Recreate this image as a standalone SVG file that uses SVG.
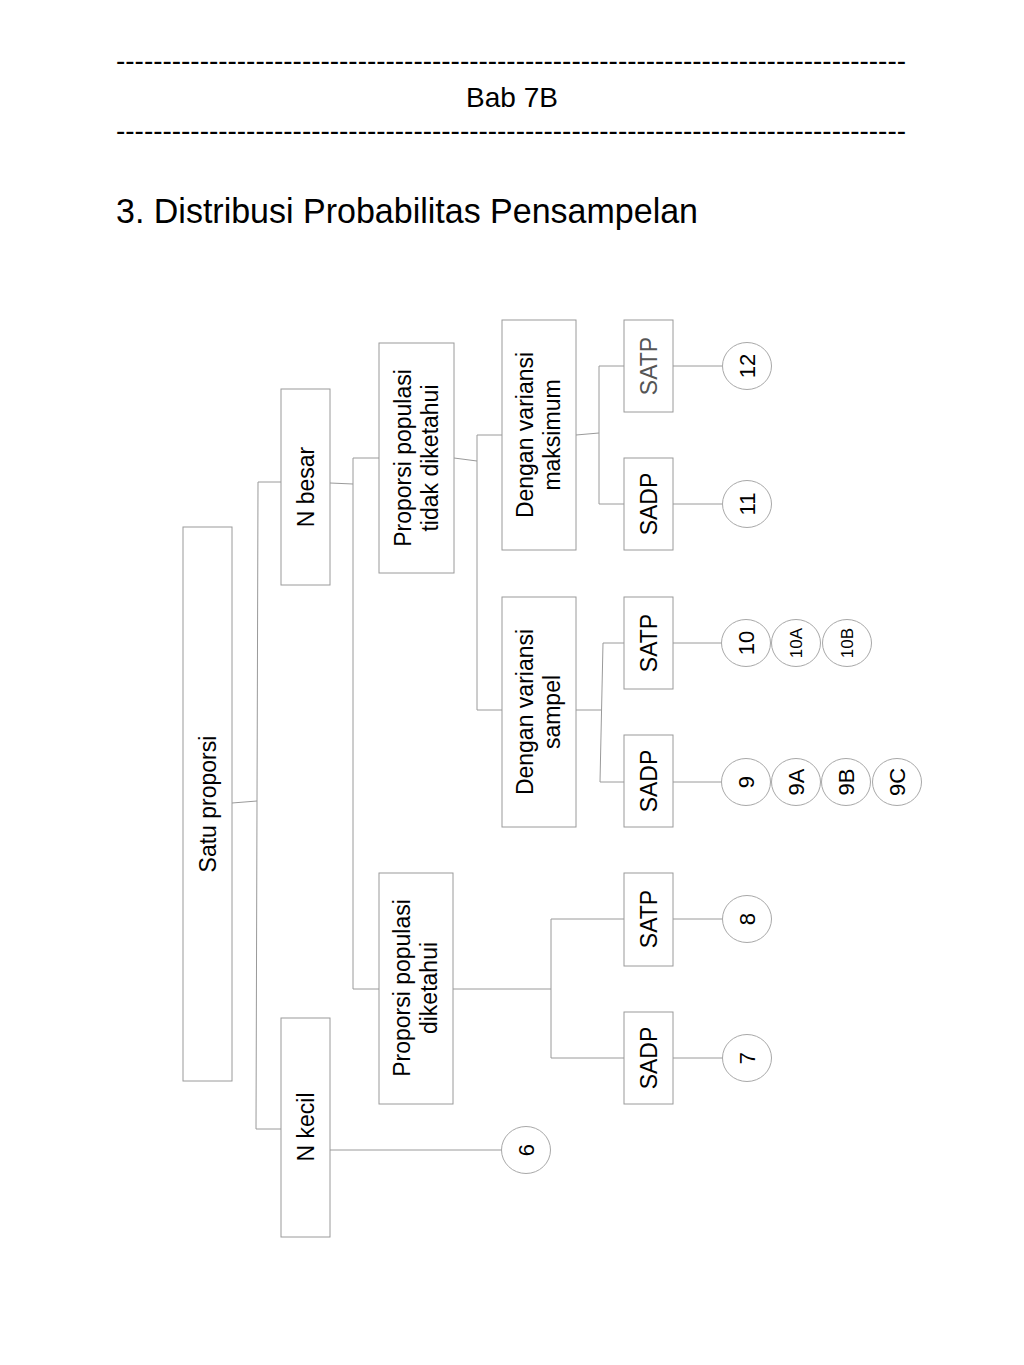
<svg xmlns="http://www.w3.org/2000/svg" width="1024" height="1365" viewBox="0 0 1024 1365">
<style>
text{font-family:"Liberation Sans",Arial,sans-serif;fill:#000}
.box{fill:#fff;stroke:#9a9a9a;stroke-width:1}
.c{fill:#fff;stroke:#a8a8a8;stroke-width:1}
.lbl{font-size:23px;text-anchor:middle}
.num{font-size:22px;text-anchor:middle}
.sm{font-size:17px;text-anchor:middle}
#connectors line,#connectors polyline{stroke:#9a9a9a;stroke-width:1;fill:none}
</style>
<rect width="1024" height="1365" fill="#fff"/>
<g id="header">
<text x="116" y="70" font-size="28" textLength="790" lengthAdjust="spacingAndGlyphs">-------------------------------------------------------------------------------------</text>
<text x="512" y="107" font-size="28" text-anchor="middle">Bab 7B</text>
<text x="116" y="140" font-size="28" textLength="790" lengthAdjust="spacingAndGlyphs">-------------------------------------------------------------------------------------</text>
<text x="116" y="223" font-size="35" textLength="582" lengthAdjust="spacingAndGlyphs">3. Distribusi Probabilitas Pensampelan</text>
</g>
<g id="connectors">
<line x1="232" y1="803" x2="257" y2="801"/>
<line x1="258" y1="482" x2="256" y2="1129"/>
<line x1="258" y1="482" x2="281" y2="482"/>
<line x1="256" y1="1129" x2="281" y2="1129"/>
<line x1="330" y1="483" x2="353" y2="484"/>
<line x1="353" y1="458" x2="353" y2="989"/>
<line x1="353" y1="458" x2="379" y2="458"/>
<line x1="353" y1="989" x2="379" y2="989"/>
<line x1="454" y1="458" x2="477" y2="461"/>
<line x1="477" y1="435" x2="477" y2="710"/>
<line x1="477" y1="435" x2="502" y2="435"/>
<line x1="477" y1="710" x2="502" y2="710"/>
<line x1="576" y1="435" x2="599" y2="433"/>
<line x1="599" y1="366" x2="599" y2="504"/>
<line x1="599" y1="366" x2="624" y2="366"/>
<line x1="599" y1="504" x2="624" y2="504"/>
<line x1="673" y1="366" x2="722" y2="366"/>
<line x1="673" y1="504" x2="722" y2="504"/>
<line x1="576" y1="710" x2="601" y2="710"/>
<line x1="603" y1="643" x2="600" y2="782"/>
<line x1="603" y1="643" x2="624" y2="643"/>
<line x1="600" y1="782" x2="624" y2="782"/>
<line x1="673" y1="643" x2="722" y2="643"/>
<line x1="673" y1="782" x2="722" y2="782"/>
<line x1="453" y1="989" x2="551" y2="989"/>
<line x1="551" y1="919" x2="551" y2="1058"/>
<line x1="551" y1="919" x2="624" y2="919"/>
<line x1="551" y1="1058" x2="624" y2="1058"/>
<line x1="673" y1="919" x2="723" y2="919"/>
<line x1="673" y1="1058" x2="723" y2="1058"/>
<line x1="330" y1="1150" x2="502" y2="1150"/>
</g>
<g id="satu-proporsi"><rect class="box" x="183" y="527" width="49" height="554"/><g transform="translate(207.5,804) rotate(-90)"><text class="lbl" y="8">Satu proporsi</text></g></g>
<g id="n-besar"><rect class="box" x="281" y="389" width="49" height="196"/><g transform="translate(305.5,487) rotate(-90)"><text class="lbl" y="8">N besar</text></g></g>
<g id="n-kecil"><rect class="box" x="281" y="1018" width="49" height="219"/><g transform="translate(305.5,1127) rotate(-90)"><text class="lbl" y="8">N kecil</text></g></g>
<g id="prop-tidak"><rect class="box" x="379" y="343" width="75" height="230"/><g transform="translate(416.5,458) rotate(-90)"><text class="lbl" y="-6">Proporsi populasi</text><text class="lbl" y="21">tidak diketahui</text></g></g>
<g id="prop-diketahui"><rect class="box" x="379" y="873" width="74" height="231"/><g transform="translate(416,988) rotate(-90)"><text class="lbl" y="-6">Proporsi populasi</text><text class="lbl" y="21">diketahui</text></g></g>
<g id="var-maks"><rect class="box" x="502" y="320" width="74" height="230"/><g transform="translate(539,435) rotate(-90)"><text class="lbl" y="-6">Dengan variansi</text><text class="lbl" y="21">maksimum</text></g></g>
<g id="var-sampel"><rect class="box" x="502" y="597" width="74" height="230"/><g transform="translate(539,712) rotate(-90)"><text class="lbl" y="-6">Dengan variansi</text><text class="lbl" y="21">sampel</text></g></g>
<g id="satp-maks"><rect class="box" x="624" y="320" width="49" height="92"/><g transform="translate(648.5,366) rotate(-90)"><text class="lbl" y="8" style="fill:#555">SATP</text></g></g>
<g id="sadp-maks"><rect class="box" x="624" y="458" width="49" height="92"/><g transform="translate(648.5,504) rotate(-90)"><text class="lbl" y="8">SADP</text></g></g>
<g id="satp-sampel"><rect class="box" x="624" y="597" width="49" height="92"/><g transform="translate(648.5,643) rotate(-90)"><text class="lbl" y="8">SATP</text></g></g>
<g id="sadp-sampel"><rect class="box" x="624" y="735" width="49" height="92"/><g transform="translate(648.5,781) rotate(-90)"><text class="lbl" y="8">SADP</text></g></g>
<g id="satp-dik"><rect class="box" x="624" y="873" width="49" height="93"/><g transform="translate(648.5,919) rotate(-90)"><text class="lbl" y="8">SATP</text></g></g>
<g id="sadp-dik"><rect class="box" x="624" y="1012" width="49" height="92"/><g transform="translate(648.5,1058) rotate(-90)"><text class="lbl" y="8">SADP</text></g></g>
<g id="c12"><ellipse class="c" cx="747" cy="366" rx="24.5" ry="23.5"/><g transform="translate(747,366) rotate(-90)"><text class="num" y="8">12</text></g></g>
<g id="c11"><ellipse class="c" cx="747" cy="504" rx="24.5" ry="23.5"/><g transform="translate(747,504) rotate(-90)"><text class="num" y="8">11</text></g></g>
<g id="c10"><ellipse class="c" cx="746" cy="643" rx="24.5" ry="23.5"/><g transform="translate(746,643) rotate(-90)"><text class="num" y="8">10</text></g></g>
<g id="c10a"><ellipse class="c" cx="796" cy="643" rx="24.5" ry="23.5"/><g transform="translate(796,643) rotate(-90)"><text class="sm" y="6">10A</text></g></g>
<g id="c10b"><ellipse class="c" cx="847" cy="643" rx="24.5" ry="23.5"/><g transform="translate(847,643) rotate(-90)"><text class="sm" y="6">10B</text></g></g>
<g id="c9"><ellipse class="c" cx="746" cy="782" rx="24.5" ry="23.5"/><g transform="translate(746,782) rotate(-90)"><text class="num" y="8">9</text></g></g>
<g id="c9a"><ellipse class="c" cx="796" cy="782" rx="24.5" ry="23.5"/><g transform="translate(796,782) rotate(-90)"><text class="num" y="8">9A</text></g></g>
<g id="c9b"><ellipse class="c" cx="846" cy="782" rx="24.5" ry="23.5"/><g transform="translate(846,782) rotate(-90)"><text class="num" y="8">9B</text></g></g>
<g id="c9c"><ellipse class="c" cx="897" cy="782" rx="24.5" ry="23.5"/><g transform="translate(897,782) rotate(-90)"><text class="num" y="8">9C</text></g></g>
<g id="c8"><ellipse class="c" cx="747" cy="919" rx="24.5" ry="23.5"/><g transform="translate(747,919) rotate(-90)"><text class="num" y="8">8</text></g></g>
<g id="c7"><ellipse class="c" cx="747" cy="1058" rx="24.5" ry="23.5"/><g transform="translate(747,1058) rotate(-90)"><text class="num" y="8">7</text></g></g>
<g id="c6"><ellipse class="c" cx="526" cy="1150" rx="24.5" ry="23.5"/><g transform="translate(526,1150) rotate(-90)"><text class="num" y="8">6</text></g></g>
</svg>
